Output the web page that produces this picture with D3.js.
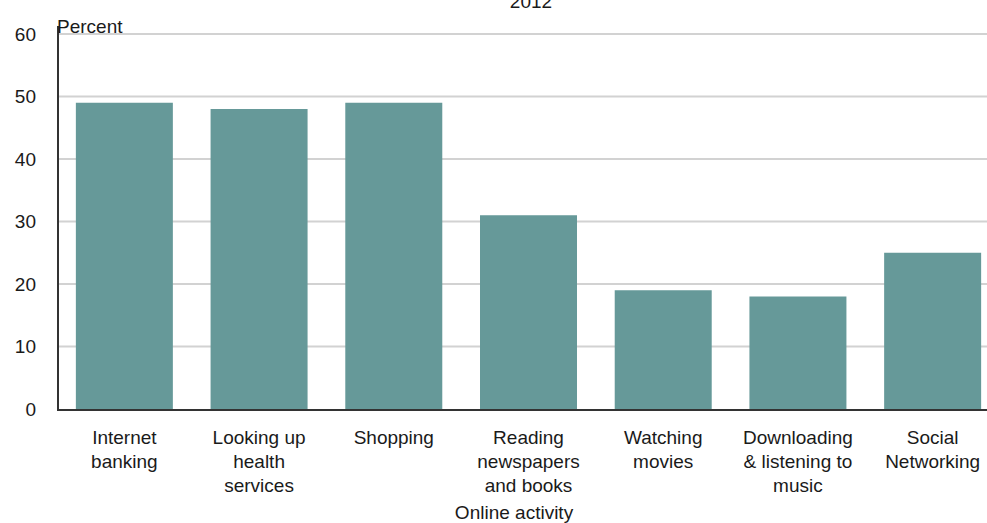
<!DOCTYPE html>
<html>
<head>
<meta charset="utf-8">
<script src="https://cdn.jsdelivr.net/npm/d3@7"></script>
<style>
body { margin:0; background:#fff; overflow:hidden; }
text { font-family: "Liberation Sans", Arial, sans-serif; fill:#1a1a1a; }
</style>
</head>
<body>
<div id="chart"></div>
<script>
// data
var activities = [
    ["Internet", "banking"],
    ["Looking up", "health", "services"],
    ["Shopping"],
    ["Reading", "newspapers", "and books"],
    ["Watching", "movies"],
    ["Downloading", "& listening to", "music"],
    ["Social", "Networking"]
];
var percent = [49, 48, 49, 31, 19, 18, 25];
var yTicks = [0, 10, 20, 30, 40, 50, 60];

var svgWidth = 987;
var svgHeight = 523;

var margin = {top:34, left:57, bottom:114};
var plotRight = 1000; // plot runs past the window edge, as in the picture
var height = svgHeight - margin.top - margin.bottom;

var svg = d3.select("#chart")
    .append("svg")
    .attr("width", svgWidth)
    .attr("height", svgHeight);

var x = d3.scaleBand()
    .domain(d3.range(activities.length))
    .range([margin.left, plotRight])
    .paddingInner(0.28)
    .paddingOuter(0.14);

var y = d3.scaleLinear()
    .domain([0, 60])
    .range([margin.top + height, margin.top]);

// gridlines
svg.append("g")
    .selectAll("line")
    .data(yTicks.filter(d => d > 0))
    .enter()
    .append("line")
    .attr("x1", margin.left)
    .attr("x2", svgWidth)
    .attr("y1", d => y(d))
    .attr("y2", d => y(d))
    .attr("stroke", "#d2d2d2")
    .attr("stroke-width", 2);

// bars
svg.append("g")
    .selectAll("rect")
    .data(percent)
    .enter()
    .append("rect")
    .attr("x", (d, i) => x(i))
    .attr("y", d => y(d))
    .attr("width", x.bandwidth())
    .attr("height", d => y(0) - y(d))
    .attr("fill", "#669999");

// y axis
var leftAxis = d3.axisLeft(y).tickValues(yTicks).tickSize(0).tickPadding(21);
var yAxis = svg.append("g")
    .attr("transform", "translate(" + margin.left + ",0)")
    .call(leftAxis);
yAxis.select(".domain").remove();
yAxis.selectAll("text")
    .style("font-size", "19px")
    .style("font-family", "Liberation Sans, Arial, sans-serif")
    .attr("fill", "#1a1a1a");

svg.append("line")
    .attr("x1", margin.left + 1)
    .attr("x2", margin.left + 1)
    .attr("y1", 26)
    .attr("y2", y(0) + 1)
    .attr("stroke", "#333")
    .attr("stroke-width", 2);

svg.append("line")
    .attr("x1", margin.left)
    .attr("x2", svgWidth)
    .attr("y1", y(0) + 1)
    .attr("y2", y(0) + 1)
    .attr("stroke", "#333")
    .attr("stroke-width", 2);

// category labels
var labels = svg.append("g")
    .selectAll("text")
    .data(activities)
    .enter()
    .append("text")
    .attr("text-anchor", "middle")
    .style("font-size", "19px")
    .attr("transform", (d, i) => "translate(" + (x(i) + x.bandwidth() / 2) + ",444)");

labels.selectAll("tspan")
    .data(d => d)
    .enter()
    .append("tspan")
    .attr("x", 0)
    .attr("y", (d, i) => i * 24)
    .text(d => d);

svg.append("text")
    .attr("x", 514)
    .attr("y", 519)
    .attr("text-anchor", "middle")
    .style("font-size", "19px")
    .text("Online activity");

svg.append("text")
    .attr("x", 57)
    .attr("y", 33)
    .style("font-size", "19px")
    .text("Percent");

svg.append("text")
    .attr("x", 531)
    .attr("y", 8)
    .attr("text-anchor", "middle")
    .style("font-size", "19px")
    .text("2012");

svg.append("text")
    .attr("x", 58)
    .attr("y", 536)
    .style("font-size", "19px")
    .style("fill", "#c8c8c8")
    .text("Source: Statistics New Zealand");
</script>
</body>
</html>
